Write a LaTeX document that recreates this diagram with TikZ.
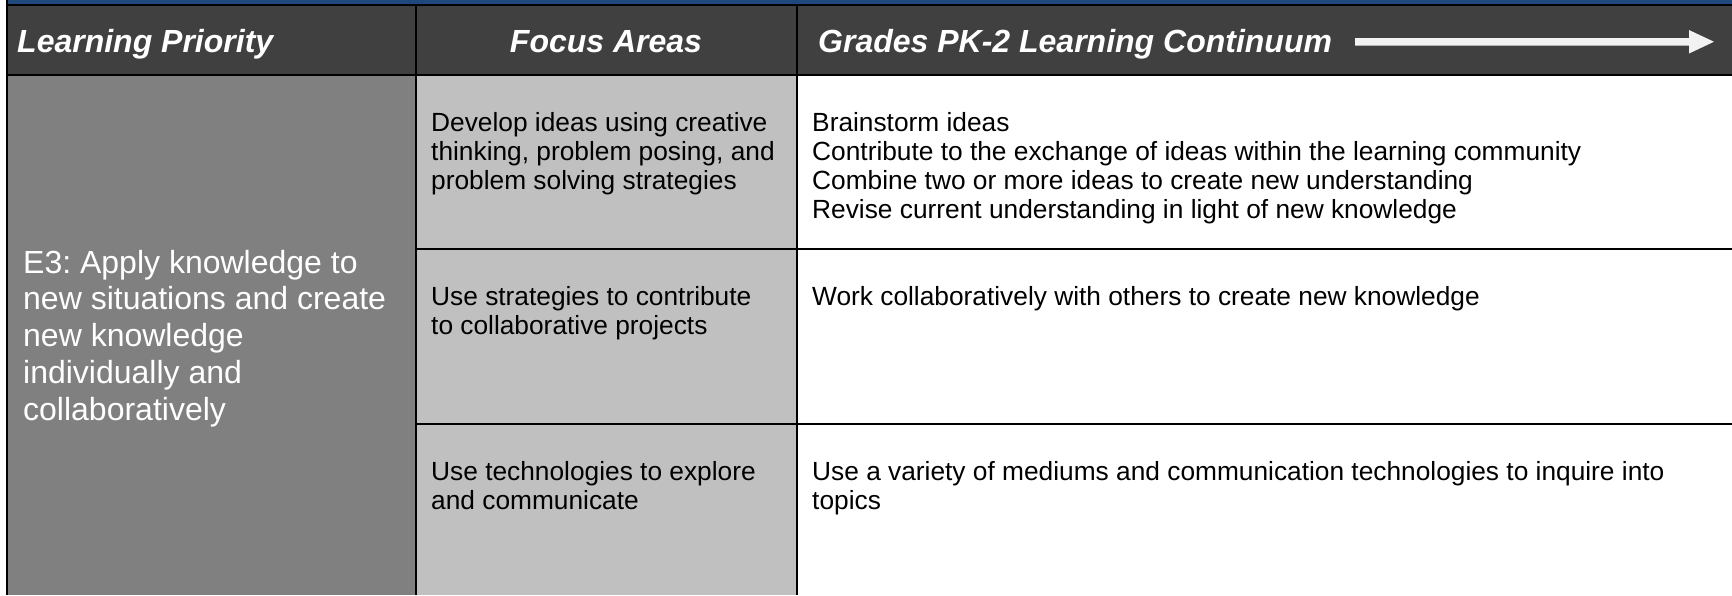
\documentclass[tikz,border=0pt]{standalone}
\usepackage{fontspec}
\setmainfont{Liberation Sans}
\frenchspacing
\definecolor{bandblue}{HTML}{1F497D}
\definecolor{hdrgray}{HTML}{404040}
\definecolor{leftgray}{HTML}{808080}
\definecolor{focusgray}{HTML}{C0C0C0}
\definecolor{arrowwhite}{HTML}{F2F2F2}
\begin{document}
\begin{tikzpicture}[x=1pt,y=-1pt,
  hdr/.style={font=\fontsize{32}{36}\selectfont\bfseries\itshape, text=white, inner sep=0},
  lefttxt/.style={font=\fontsize{32}{37}\selectfont, text=white, inner sep=0, anchor=base west},
  bodytxt/.style={font=\fontsize{26.3}{30}\selectfont, text=black, inner sep=0, anchor=base west},
  gridline/.style={line width=2pt, draw=black}]
\useasboundingbox (0,0) rectangle (1732,595);
\fill[white] (0,0) rectangle (1732,595);
% cell fills
\fill[bandblue] (7,0) rectangle (1732,5);
\fill[hdrgray] (7,5) rectangle (1732,75);
\fill[leftgray] (7,75) rectangle (416,595);
\fill[focusgray] (416,75) rectangle (797,595);
% grid lines
\draw[gridline] (7,0) -- (7,595);
\draw[gridline] (7,5) -- (1732,5);
\draw[gridline] (7,75) -- (1732,75);
\draw[gridline] (416,5) -- (416,595);
\draw[gridline] (797,5) -- (797,595);
\draw[gridline] (416,249) -- (1732,249);
\draw[gridline] (416,424) -- (1732,424);
% header texts
\node[hdr, anchor=base west] (hLP) at (17,52) {Learning Priority};
\node[hdr, anchor=base] (hFA) at (606,52) {Focus Areas};
\node[hdr, anchor=base west] (hGC) at (818,52) {Grades PK-2 Learning Continuum};
% header arrow
\coordinate (arrTail) at (1355,41.75);
\coordinate (arrTip) at (1714,41.75);
\fill[arrowwhite] (1355,38) -- (1689,38) -- (1689,30) -- (arrTip) -- (1689,53.5) -- (1689,45.5) -- (1355,45.5) -- cycle;
% left column
\node[lefttxt] (lp1) at (23,273) {E3: Apply knowledge to};
\node[lefttxt] (lp2) at (23,309.75) {new situations and create};
\node[lefttxt] (lp3) at (23,346.5) {new knowledge};
\node[lefttxt] (lp4) at (23,383.25) {individually and};
\node[lefttxt] (lp5) at (23,420) {collaboratively};
% focus areas
\node[bodytxt] (fa1a) at (431,131) {Develop ideas using creative};
\node[bodytxt] (fa1b) at (431,160) {thinking, problem posing, and};
\node[bodytxt] (fa1c) at (431,189) {problem solving strategies};
\node[bodytxt] (fa2a) at (431,305) {Use strategies to contribute};
\node[bodytxt] (fa2b) at (431,334) {to collaborative projects};
\node[bodytxt] (fa3a) at (431,480) {Use technologies to explore};
\node[bodytxt] (fa3b) at (431,509) {and communicate};
% continuum
\node[bodytxt] (gc1a) at (812,131) {Brainstorm ideas};
\node[bodytxt] (gc1b) at (812,160) {Contribute to the exchange of ideas within the learning community};
\node[bodytxt] (gc1c) at (812,189) {Combine two or more ideas to create new understanding};
\node[bodytxt] (gc1d) at (812,218) {Revise current understanding in light of new knowledge};
\node[bodytxt] (gc2a) at (812,305) {Work collaboratively with others to create new knowledge};
\node[bodytxt] (gc3a) at (812,480) {Use a variety of mediums and communication technologies to inquire into};
\node[bodytxt] (gc3b) at (812,509) {topics};
\end{tikzpicture}
\end{document}
